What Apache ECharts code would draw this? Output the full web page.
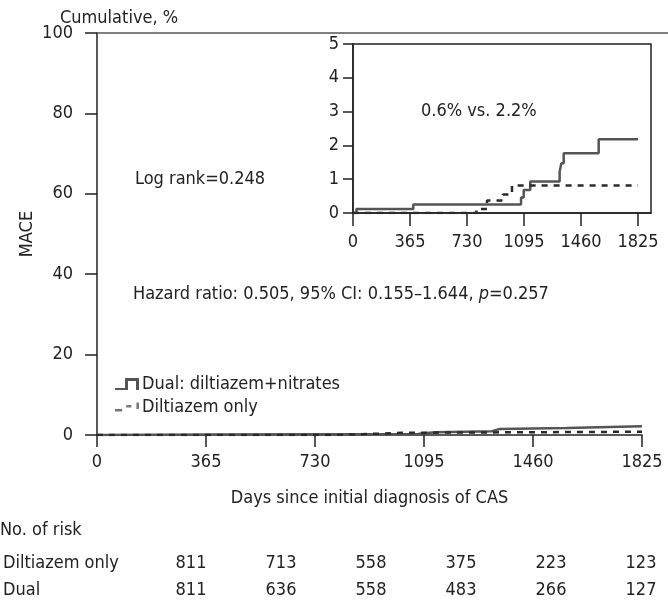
<!DOCTYPE html>
<html>
<head>
<meta charset="utf-8">
<script src="https://cdn.jsdelivr.net/npm/echarts@6/dist/echarts.min.js"></script>
<style>
  html, body { margin: 0; padding: 0; background: #fff; }
  #chart { width: 668px; height: 602px; }
</style>
</head>
<body>
<div id="chart"></div>
<script>
// step points: day of event, cumulative MACE %
const dualDays = [0, 22, 386, 1076, 1093, 1135, 1323, 1334, 1349, 1573, 1825]
const dualPct = [0, 0.12, 0.25, 0.46, 0.68, 0.93, 1.22, 1.47, 1.77, 2.18, 2.18]
const diltDays = [0, 790, 858, 960, 1018, 1825]
const diltPct = [0, 0.12, 0.37, 0.55, 0.81, 0.81]

const xTicks = [0, 365, 730, 1095, 1460, 1825]
const mainYTicks = [0, 20, 40, 60, 80, 100]
const insetYTicks = [0, 1, 2, 3, 4, 5]

const riskCols = ['0', '365', '730', '1095', '1460', '1825']
const riskRows = ['Diltiazem only', 'Dual']
const riskDilt = [811, 713, 558, 375, 223, 123]
const riskDual = [811, 636, 558, 483, 266, 127]

const FONT = '"Liberation Sans Narrow", "DejaVu Sans Condensed", sans-serif'
const TXT = '#222'
const DUAL_COLOR = '#555'
const DILT_COLOR = '#2a2a2a'

const pts = (xs, ys) => xs.map((x, i) => [x, ys[i]])
const dualData = pts(dualDays, dualPct)
const diltData = pts(diltDays, diltPct)

const riskData = []
riskDilt.forEach((v, i) => riskData.push([riskCols[i], riskRows[0], v]))
riskDual.forEach((v, i) => riskData.push([riskCols[i], riskRows[1], v]))

const axisLine = { show: true, lineStyle: { color: '#222', width: 1.5 } }
const axisTick = { show: true, inside: false, length: 12, lineStyle: { color: '#222', width: 1.5 } }
const lblStyle = { fontFamily: FONT, fontSize: 18, color: TXT }
const plain = v => String(v)

const chart = echarts.init(document.getElementById('chart'))

chart.setOption({
  animation: false,
  textStyle: { fontFamily: FONT },
  title: {
    text: 'Cumulative, %',
    left: 55, top: 4,
    textStyle: { fontFamily: FONT, fontSize: 18, fontWeight: 'normal', color: TXT }
  },
  legend: {
    orient: 'vertical',
    left: 110, top: 370,
    itemWidth: 24, itemHeight: 12, itemGap: 5,
    textStyle: { fontFamily: FONT, fontSize: 18, color: TXT, padding: [0, 0, 0, -2] },
    data: [
      { name: 'Dual: diltiazem+nitrates',
        icon: 'path://M0,10 L10,10 L10,0 L24,0 L24,12 L21,12 L21,3 L13,3 L13,12 L0,12 Z',
        itemStyle: { color: DUAL_COLOR } },
      { name: 'Diltiazem only',
        icon: 'path://M0,9 L7,9 L7,11.5 L0,11.5 Z M11,5 L16,5 L16,7.5 L11,7.5 Z M21,2.5 L23.5,2.5 L23.5,9 L21,9 Z',
        itemStyle: { color: '#777' } }
    ]
  },
  grid: [
    { left: 97, right: 26, top: 33, bottom: 167 },
    { left: 353, right: 17, top: 44, bottom: 389, show: true, borderColor: '#222', borderWidth: 1.5 },
    { left: 97, right: 0, top: 32, height: 1 },
    { left: 185, right: 27, top: 563, height: 27 }
  ],
  xAxis: [
    {
      gridIndex: 0, type: 'value', min: 0, max: 1825, interval: 365,
      name: 'Days since initial diagnosis of CAS',
      nameLocation: 'middle', nameGap: 54,
      nameTextStyle: lblStyle,
      axisLine, axisTick, splitLine: { show: false },
      axisLabel: Object.assign({ margin: 18, formatter: plain }, lblStyle)
    },
    {
      gridIndex: 1, type: 'value', min: 0, max: 1908,
      axisLine, splitLine: { show: false },
      axisTick: Object.assign({}, axisTick, { length: 13, customValues: xTicks }),
      axisLabel: Object.assign({ margin: 20, customValues: xTicks, formatter: plain }, lblStyle)
    },
    {
      gridIndex: 2, type: 'value', min: 0, max: 1,
      axisLine: { show: true, lineStyle: { color: '#555', width: 1.5 } },
      axisTick: { show: false }, axisLabel: { show: false }, splitLine: { show: false }
    },
    {
      gridIndex: 3, type: 'category', data: riskCols, boundaryGap: false,
      axisLine: { show: false }, axisTick: { show: false },
      axisLabel: { show: false }, splitLine: { show: false }
    }
  ],
  yAxis: [
    {
      gridIndex: 0, type: 'value', min: 0, max: 100, interval: 20,
      name: 'MACE', nameLocation: 'middle', nameGap: 61, nameRotate: 90,
      nameMoveOverlap: false,
      nameTextStyle: lblStyle,
      axisLine, axisTick, splitLine: { show: false },
      axisLabel: Object.assign({ margin: 24, customValues: mainYTicks }, lblStyle)
    },
    {
      gridIndex: 1, type: 'value', min: 0, max: 5, interval: 1,
      axisLine, splitLine: { show: false },
      axisTick: Object.assign({}, axisTick, { length: 10 }),
      axisLabel: Object.assign({ margin: 14, customValues: insetYTicks }, lblStyle)
    },
    {
      gridIndex: 2, type: 'value', show: false
    },
    {
      gridIndex: 3, type: 'category', data: riskRows, inverse: true, boundaryGap: false,
      axisLine: { show: false }, axisTick: { show: false }, splitLine: { show: false },
      axisLabel: Object.assign({ margin: 188, align: 'left' }, lblStyle)
    }
  ],
  graphic: [
    { type: 'text', left: 0, top: 521, style: { text: 'No. of risk', font: '18px ' + FONT, fill: TXT } },
    { type: 'text', left: 135, top: 170, style: { text: 'Log rank=0.248', font: '18px ' + FONT, fill: TXT } },
    { type: 'text', left: 421, top: 102, style: { text: '0.6% vs. 2.2%', font: '18px ' + FONT, fill: TXT } },
    {
      type: 'text', left: 133, top: 285,
      style: {
        text: 'Hazard ratio: 0.505, 95% CI: 0.155\u20131.644, {i|p}=0.257',
        font: '18px ' + FONT, fill: TXT,
        rich: { i: { fontStyle: 'italic', fontFamily: FONT, fontSize: 18, fill: TXT } }
      }
    }
  ],
  series: [
    {
      name: 'Dual: diltiazem+nitrates', type: 'line', step: 'end',
      xAxisIndex: 0, yAxisIndex: 0, data: dualData, symbol: 'none',
      lineStyle: { color: DUAL_COLOR, width: 2.5 }, itemStyle: { color: DUAL_COLOR }
    },
    {
      name: 'Diltiazem only', type: 'line', step: 'end',
      xAxisIndex: 0, yAxisIndex: 0, data: diltData, symbol: 'none',
      lineStyle: { color: DILT_COLOR, width: 2.5, type: [6, 6] }, itemStyle: { color: '#777' }
    },
    {
      name: 'Dual: diltiazem+nitrates', type: 'line', step: 'end',
      xAxisIndex: 1, yAxisIndex: 1, data: dualData, symbol: 'none',
      lineStyle: { color: DUAL_COLOR, width: 2.5 }, itemStyle: { color: DUAL_COLOR }
    },
    {
      name: 'Diltiazem only', type: 'line', step: 'end',
      xAxisIndex: 1, yAxisIndex: 1, data: diltData, symbol: 'none',
      lineStyle: { color: DILT_COLOR, width: 2.5, type: [6, 6] }, itemStyle: { color: '#777' }
    },
    {
      name: 'risk', type: 'scatter', xAxisIndex: 3, yAxisIndex: 3,
      data: riskData, symbolSize: 1, itemStyle: { color: 'transparent' },
      label: {
        show: true, position: 'inside',
        formatter: p => String(p.value[2]),
        fontFamily: FONT, fontSize: 18, color: TXT, textBorderWidth: 0, opacity: 1
      }
    }
  ]
})
</script>
</body>
</html>
